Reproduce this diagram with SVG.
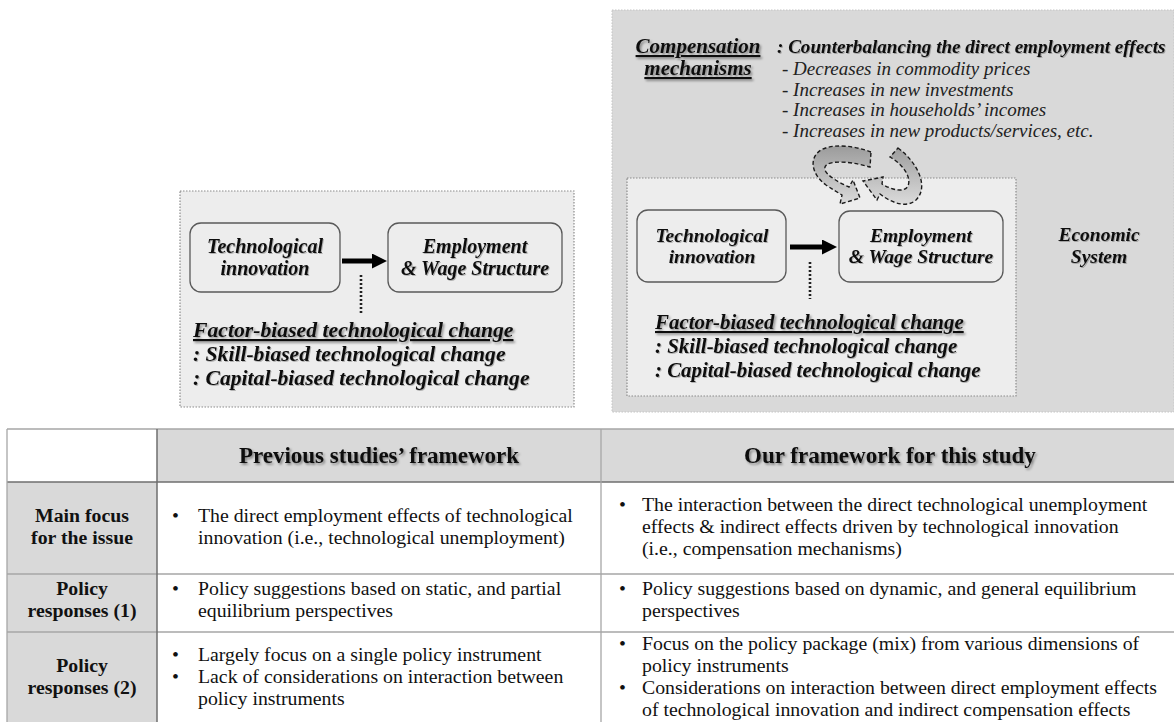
<svg xmlns="http://www.w3.org/2000/svg" width="1174" height="722" viewBox="0 0 1174 722">
<defs>
<style>
.bi{font-family:"Liberation Serif","Times New Roman",serif;font-weight:bold;font-style:italic;font-size:19.5px;fill:#111}
.it{font-family:"Liberation Serif","Times New Roman",serif;font-style:italic;font-size:19px;fill:#222}
.tb{font-family:"Liberation Serif","Times New Roman",serif;font-size:19.8px;fill:#111}
.th{font-family:"Liberation Serif","Times New Roman",serif;font-weight:bold;font-size:19.8px;fill:#111;text-anchor:middle}
.hd{font-family:"Liberation Serif","Times New Roman",serif;font-weight:bold;font-size:23px;fill:#111;text-anchor:middle}
.c{text-anchor:middle}
.node{fill:#ededed;stroke:#595959;stroke-width:1.3}
.dotbox{fill:#ededed;stroke:#8c8c8c;stroke-width:1.2;stroke-dasharray:1.5 1.5}
.dots{stroke:#222;stroke-width:2.6;stroke-dasharray:2 2;fill:none}
.cyc{fill:url(#cg);stroke:#1a1a1a;stroke-width:1.4;stroke-dasharray:4 2.5}
.grid{stroke:#a6a6a6;stroke-width:1.3}
.gridd{stroke:#6e6e6e;stroke-width:1.5}
.s21{font-size:21px}
.s20{font-size:20px}
.s191{font-size:19.1px}
.lf{font-size:21.7px}
.ls{font-size:21.6px}
.rf{font-size:20.9px}
.rs{font-size:20.9px}
</style>
<filter id="sh" x="-5%" y="-30%" width="115%" height="170%">
<feDropShadow dx="1.6" dy="1.8" stdDeviation="1" flood-color="#000" flood-opacity="0.4"/>
</filter>
<filter id="sh2" x="-5%" y="-30%" width="115%" height="170%">
<feDropShadow dx="1" dy="1" stdDeviation="0.7" flood-color="#000" flood-opacity="0.25"/>
</filter>
<linearGradient id="cg" gradientUnits="userSpaceOnUse" x1="0" y1="145" x2="0" y2="205">
<stop offset="0" stop-color="#9a9a9a"/>
<stop offset="1" stop-color="#dcdcdc"/>
</linearGradient>
<marker id="ah" viewBox="0 0 10 10" refX="0" refY="5" markerWidth="3.3" markerHeight="3" orient="auto" markerUnits="strokeWidth">
<path d="M0,0 L10,5 L0,10 Z" fill="#000"/>
</marker>
</defs>
<rect width="1174" height="722" fill="#fff"/>

<!-- Right panel: economic system -->
<g id="economic-system">
<rect x="612" y="10" width="562" height="402" fill="#d9d9d9" stroke="#c4c4c4" stroke-width="1" stroke-dasharray="1.5 1.5"/>
<text class="bi c" x="1099" y="241" filter="url(#sh2)">Economic</text>
<text class="bi c" x="1099" y="263" filter="url(#sh2)">System</text>
</g>

<g id="compensation">
<text class="bi c s21" x="698" y="53" text-decoration="underline" filter="url(#sh)">Compensation</text>
<text class="bi c s21" x="698" y="75" text-decoration="underline" filter="url(#sh)">mechanisms</text>
<text class="bi s191" x="777" y="53" filter="url(#sh2)">: Counterbalancing the direct employment effects</text>
<text class="it" x="782" y="75">- Decreases in commodity prices</text>
<text class="it" x="782" y="95.5">- Increases in new investments</text>
<text class="it" x="782" y="116">- Increases in households’ incomes</text>
<text class="it" x="782" y="136.5">- Increases in new products/services, etc.</text>
</g>

<!-- Left framework box -->
<g id="previous-framework">
<rect class="dotbox" x="180" y="191" width="394" height="216"/>
</g>
<g id="left-tech">
<rect class="node" x="190" y="223" width="150" height="69" rx="11"/>
<text class="bi c s20" x="265" y="253" filter="url(#sh2)">Technological</text>
<text class="bi c s20" x="265" y="275" filter="url(#sh2)">innovation</text>
</g>
<g id="left-emp">
<rect class="node" x="388" y="223" width="174" height="69" rx="11"/>
<text class="bi c s20" x="475" y="253" filter="url(#sh2)">Employment</text>
<text class="bi c s20" x="475" y="275" filter="url(#sh2)">&amp; Wage Structure</text>
</g>
<g id="left-factor">
<text class="bi lf" x="193" y="337" text-decoration="underline" filter="url(#sh)">Factor-biased technological change</text>
<text class="bi ls" x="193" y="361" filter="url(#sh2)">: Skill-biased technological change</text>
<text class="bi ls" x="193" y="385" filter="url(#sh2)">: Capital-biased technological change</text>
</g>

<!-- Right framework box -->
<g id="our-framework">
<rect class="dotbox" x="627" y="178" width="389" height="218"/>
</g>
<g id="right-tech">
<rect class="node" x="637" y="210" width="149" height="72" rx="11"/>
<text class="bi c" x="712" y="242" filter="url(#sh2)">Technological</text>
<text class="bi c" x="712" y="263" filter="url(#sh2)">innovation</text>
</g>
<g id="right-emp">
<rect class="node" x="839" y="211" width="164" height="71" rx="11"/>
<text class="bi c" x="921" y="242" filter="url(#sh2)">Employment</text>
<text class="bi c" x="921" y="263" filter="url(#sh2)">&amp; Wage Structure</text>
</g>
<g id="right-factor">
<text class="bi rf" x="655" y="329" text-decoration="underline" filter="url(#sh)">Factor-biased technological change</text>
<text class="bi rs" x="655" y="353" filter="url(#sh2)">: Skill-biased technological change</text>
<text class="bi rs" x="655" y="377" filter="url(#sh2)">: Capital-biased technological change</text>
</g>

<!-- Connectors -->
<g id="connectors">
<line x1="342" y1="261" x2="372" y2="261" stroke="#000" stroke-width="5" marker-end="url(#ah)"/>
<line x1="361" y1="275" x2="361" y2="313" class="dots"/>
<line x1="790" y1="247" x2="822" y2="247" stroke="#000" stroke-width="5" marker-end="url(#ah)"/>
<line x1="810" y1="262" x2="810" y2="299" class="dots"/>
<path class="cyc" d="M 871,152 C 855,146 834,143 821,150 C 808,158 812,175 826,185 C 832,189 837,192 842,195 L 840,204 L 860,198 L 853,180 L 849,187 C 840,183 827,176 825,170 C 822,160 846,160 870,167 Z"/>
<path class="cyc" d="M 898,148 C 916,161 930,186 916,200 C 906,209 890,202 880,194 L 877,200 L 863,181 L 883,177 L 882,184 C 892,190 904,193 908,186 C 912,176 901,163 890,157 Z"/>
</g>

<!-- Table -->
<g id="table">
<rect x="7" y="429" width="150" height="53" fill="#fff"/>
<rect x="157" y="429" width="1017" height="53" fill="#d9d9d9"/>
<rect x="7" y="482" width="150" height="240" fill="#d9d9d9"/>
<line class="grid" x1="7" y1="429" x2="1174" y2="429"/>
<line class="gridd" x1="7" y1="482" x2="1174" y2="482"/>
<line class="grid" x1="7" y1="574" x2="1174" y2="574"/>
<line class="grid" x1="7" y1="632" x2="1174" y2="632"/>
<line class="grid" x1="7" y1="429" x2="7" y2="722"/>
<line class="gridd" x1="157" y1="429" x2="157" y2="722"/>
<line class="grid" x1="601" y1="429" x2="601" y2="722"/>

<text class="hd" x="379" y="463" filter="url(#sh)">Previous studies’ framework</text>
<text class="hd" x="890" y="463" filter="url(#sh)">Our framework for this study</text>

<text class="th" x="82" y="522">Main focus</text>
<text class="th" x="82" y="544">for the issue</text>
<text class="th" x="82" y="595">Policy</text>
<text class="th" x="82" y="617">responses (1)</text>
<text class="th" x="82" y="672">Policy</text>
<text class="th" x="82" y="694">responses (2)</text>

<text class="tb" x="172" y="522">•</text>
<text class="tb" x="198" y="522">The direct employment effects of technological</text>
<text class="tb" x="198" y="544">innovation (i.e., technological unemployment)</text>
<text class="tb" x="172" y="595">•</text>
<text class="tb" x="198" y="595">Policy suggestions based on static, and partial</text>
<text class="tb" x="198" y="617">equilibrium perspectives</text>
<text class="tb" x="172" y="661">•</text>
<text class="tb" x="198" y="661">Largely focus on a single policy instrument</text>
<text class="tb" x="172" y="683">•</text>
<text class="tb" x="198" y="683">Lack of considerations on interaction between</text>
<text class="tb" x="198" y="705">policy instruments</text>

<text class="tb" x="619" y="511">•</text>
<text class="tb" x="642" y="511">The interaction between the direct technological unemployment</text>
<text class="tb" x="642" y="533">effects &amp; indirect effects driven by technological innovation</text>
<text class="tb" x="642" y="555">(i.e., compensation mechanisms)</text>
<text class="tb" x="619" y="595">•</text>
<text class="tb" x="642" y="595">Policy suggestions based on dynamic, and general equilibrium</text>
<text class="tb" x="642" y="617">perspectives</text>
<text class="tb" x="619" y="650">•</text>
<text class="tb" x="642" y="650">Focus on the policy package (mix) from various dimensions of</text>
<text class="tb" x="642" y="672">policy instruments</text>
<text class="tb" x="619" y="694">•</text>
<text class="tb" x="642" y="694">Considerations on interaction between direct employment effects</text>
<text class="tb" x="642" y="716">of technological innovation and indirect compensation effects</text>
</g>
</svg>
